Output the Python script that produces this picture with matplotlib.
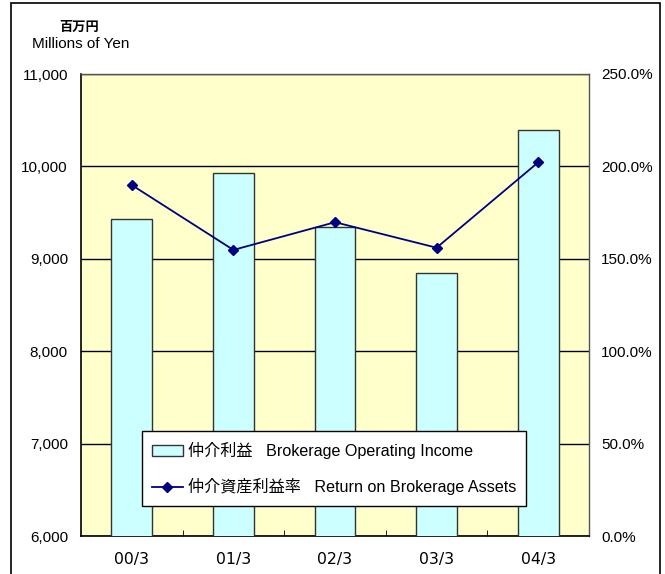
import matplotlib.pyplot as plt
import numpy as np
from matplotlib.patches import Rectangle
from matplotlib.ticker import FuncFormatter, MultipleLocator

plt.rcParams["font.family"] = ["Liberation Sans", "Noto Sans CJK JP"]

categories = ["00/3", "01/3", "02/3", "03/3", "04/3"]
income = [9428, 9932, 9347, 8841, 10394]
return_rate = [189.9, 154.8, 169.8, 156.0, 202.2]

bar_label = "仲介利益   Brokerage Operating Income"
line_label = "仲介資産利益率   Return on Brokerage Assets"

fig = plt.figure(figsize=(6.65, 5.74), dpi=100)
ax = fig.add_axes([81 / 665, 38 / 574, 508 / 665, 462 / 574])
ax.set_facecolor("#FFFFCC")

x = np.arange(len(categories))
bars = ax.bar(x, income, width=0.40, bottom=0, color="#CCFFFF",
              edgecolor="#333333", linewidth=1.0, zorder=3, label=bar_label)
ax.set_xlim(-0.5, len(categories) - 0.5)
ax.set_ylim(6000, 11000)
ax.yaxis.set_major_locator(MultipleLocator(1000))
ax.yaxis.set_major_formatter(FuncFormatter(lambda v, p: f"{v:,.0f}"))
ax.grid(axis="y", color="black", linewidth=1.0, zorder=1)
ax.set_axisbelow(True)

ax.set_xticks(x)
ax.set_xticklabels(categories, family=["DejaVu Sans"])
ax.set_xticks(np.arange(0.5, len(categories) - 0.5), minor=True)
ax.tick_params(axis="x", which="major", length=0, pad=11.5, labelsize=11.3)
ax.tick_params(axis="x", which="minor", length=4, direction="in", color="black")
ax.tick_params(axis="y", length=0, pad=9.4, labelsize=11)

for side in ["left", "bottom"]:
    ax.spines[side].set_color("black")
    ax.spines[side].set_linewidth(1.2)
for side in ["top", "right"]:
    ax.spines[side].set_color("#555555")
    ax.spines[side].set_linewidth(1.0)

ax2 = ax.twinx()
line, = ax2.plot(x, return_rate, color="#000080", linewidth=1.3, marker="D",
                 markersize=5, label=line_label, zorder=4)
ax2.set_ylim(0, 250)
ax2.yaxis.set_major_locator(MultipleLocator(50))
ax2.yaxis.set_major_formatter(FuncFormatter(lambda v, p: f"{v:.1f}%"))
ax2.tick_params(axis="y", length=0, pad=8.6, labelsize=11)
for side in ax2.spines:
    ax2.spines[side].set_visible(False)

leg = ax2.legend([bars, line], [bar_label, line_label], loc="lower left",
                 bbox_to_anchor=(0.1195, 0.065), borderaxespad=0,
                 fontsize=11.6, frameon=True, fancybox=False,
                 edgecolor="black", framealpha=1.0, handlelength=1.9,
                 handleheight=0.7, labelspacing=1.2, borderpad=0.65,
                 handletextpad=0.3)
leg.get_frame().set_linewidth(1.0)

fig.text(79 / 665, 1 - 28 / 574, "百万円", ha="center", va="center",
         fontsize=9.5, fontweight="bold")
fig.text(81 / 665, 1 - 44 / 574, "Millions of Yen", ha="center", va="center", fontsize=11)

fig.patches.append(Rectangle((11 / 665, -0.05), 649 / 665, 1.05 - 3 / 574,
                             transform=fig.transFigure, fill=False,
                             edgecolor="black", linewidth=1.2))

fig.savefig("out.png", dpi=100)
